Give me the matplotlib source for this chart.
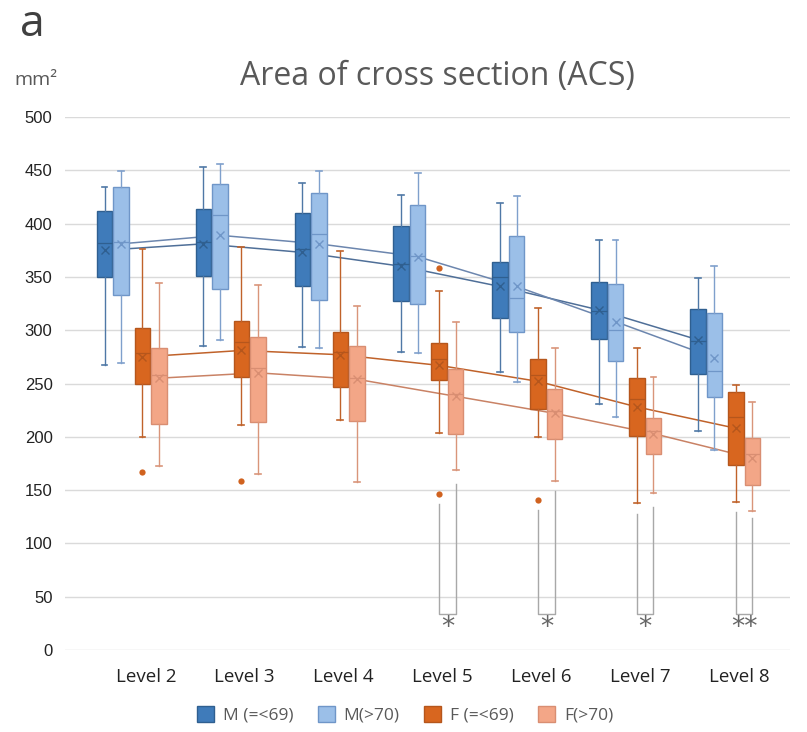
import matplotlib
matplotlib.use('Agg')
import matplotlib.pyplot as plt
from matplotlib.patches import Patch

levels = ['Level 2', 'Level 3', 'Level 4', 'Level 5', 'Level 6', 'Level 7', 'Level 8']
series_names = ['M (=<69)', 'M(>70)', 'F (=<69)', 'F(>70)']

# M (=<69)
my_lo   = [267, 285, 284, 280, 261, 231, 205]
my_q1   = [350, 351, 341, 327, 311, 292, 259]
my_med  = [382, 383, 376, 362, 350, 318, 290]
my_q3   = [412, 414, 410, 398, 364, 345, 320]
my_hi   = [434, 453, 438, 427, 419, 385, 349]
my_mean = [375, 381, 373, 360, 341, 319, 291]
my_fl   = [[], [], [], [], [], [], []]

# M(>70)
mo_lo   = [269, 291, 283, 279, 251, 219, 188]
mo_q1   = [333, 339, 328, 325, 298, 271, 237]
mo_med  = [383, 408, 390, 370, 330, 300, 262]
mo_q3   = [434, 437, 429, 417, 388, 343, 316]
mo_hi   = [449, 456, 449, 447, 426, 385, 360]
mo_mean = [381, 389, 381, 369, 341, 308, 274]
mo_fl   = [[], [], [], [], [], [], []]

# F (=<69)
fy_lo   = [200, 211, 216, 204, 200, 138, 139]
fy_q1   = [250, 256, 247, 253, 226, 201, 174]
fy_med  = [279, 289, 280, 273, 258, 235, 219]
fy_q3   = [302, 309, 298, 288, 273, 255, 242]
fy_hi   = [376, 378, 374, 337, 321, 283, 249]
fy_mean = [275, 281, 277, 267, 252, 228, 208]
fy_fl   = [[167], [159], [], [358, 146], [141], [], []]

# F(>70)
fo_lo   = [173, 165, 158, 169, 159, 147, 130]
fo_q1   = [212, 214, 215, 203, 198, 184, 155]
fo_med  = [258, 265, 255, 240, 224, 205, 184]
fo_q3   = [283, 294, 285, 264, 245, 218, 199]
fo_hi   = [344, 342, 323, 308, 283, 256, 233]
fo_mean = [255, 260, 254, 238, 222, 203, 180]
fo_fl   = [[], [], [], [], [], [], []]

# significance brackets between F (=<69) and F(>70)
sig_idx    = [3, 4, 5, 6]
sig_text   = ['*', '*', '*', '**']
sig_top_l  = [137, 131, 128, 129]
sig_top_r  = [156, 149, 134, 124]
sig_bottom = 34

yticks = [0, 50, 100, 150, 200, 250, 300, 350, 400, 450, 500]

fill_cols = ['#3F7BBA', '#9BBFE8', '#D8661F', '#F3A687']
edge_cols = ['#2F5F90', '#6F96C8', '#B5561C', '#D98E72']
whis_cols = ['#4F78A6', '#7FA0CC', '#C0622A', '#D9957A']
line_cols = ['#4F6F98', '#6C86AE', '#C0622A', '#C98265']
offsets = [-0.278, -0.111, 0.106, 0.273]
bw = 0.157

data = [
    (my_lo, my_q1, my_med, my_q3, my_hi, my_mean, my_fl),
    (mo_lo, mo_q1, mo_med, mo_q3, mo_hi, mo_mean, mo_fl),
    (fy_lo, fy_q1, fy_med, fy_q3, fy_hi, fy_mean, fy_fl),
    (fo_lo, fo_q1, fo_med, fo_q3, fo_hi, fo_mean, fo_fl),
]

fig = plt.figure(figsize=(8.07, 7.32), dpi=100)
ax = fig.add_axes([65/807, 1-650/732, (790-65)/807, (650-117)/732])

n = len(levels)
for s, (lo, q1, med, q3, hi, mean, fl) in enumerate(data):
    stats = []
    for i in range(n):
        stats.append(dict(whislo=lo[i], q1=q1[i], med=med[i], q3=q3[i],
                          whishi=hi[i], mean=mean[i], fliers=fl[i]))
    pos = [i + offsets[s] for i in range(n)]
    ax.plot(pos, mean, color=line_cols[s], lw=1.1, zorder=2)
    ax.bxp(stats, positions=pos, widths=bw, patch_artist=True, showmeans=True,
           capwidths=0.06, manage_ticks=False,
           boxprops=dict(facecolor=fill_cols[s], edgecolor=edge_cols[s], lw=1.0),
           whiskerprops=dict(color=whis_cols[s], lw=1.0),
           capprops=dict(color=whis_cols[s], lw=1.2),
           medianprops=dict(color=edge_cols[s], lw=0.9),
           meanprops=dict(marker='x', markeredgecolor=edge_cols[s], markersize=6, mew=1.0),
           flierprops=dict(marker='o', markerfacecolor='#D0621F', markeredgecolor='none', markersize=4.5),
           zorder=3)

for k, i in enumerate(sig_idx):
    xl = i + offsets[2]
    xr = i + offsets[3]
    ax.plot([xl, xl, xr, xr], [sig_top_l[k], sig_bottom, sig_bottom, sig_top_r[k]],
            color='#A8A8A8', lw=1.0, zorder=2)
    ax.text((xl + xr) / 2, 21, sig_text[k], ha='center', va='center',
            fontsize=19, color='#666666', family='DejaVu Sans')

ax.set_ylim(0, 500)
ax.set_xlim((65-132)/98.9, (790-132)/98.9)
ax.set_yticks(yticks)
ax.set_yticklabels([str(v) for v in yticks], family='Liberation Sans', fontsize=12, color='#222222')
ax.set_xticks([i + 0.14 for i in range(n)])
ax.set_xticklabels(levels, family='Open Sans', fontsize=13.5, color='#222222')
ax.tick_params(axis='both', length=0)
ax.tick_params(axis='y', pad=9)
ax.tick_params(axis='x', pad=13)
ax.grid(axis='y', color='#DADADA', lw=1.0, zorder=0)
ax.set_axisbelow(True)
for sp in ax.spines.values():
    sp.set_visible(False)

fig.text(437/807, 1-77/732, 'Area of cross section (ACS)', ha='center', va='center',
         fontsize=23, color='#595959', family='Open Sans')
fig.text(20/807, 1-25/732, 'a', ha='left', va='center', fontsize=32, color='#404040', family='Open Sans')
fig.text(14/807, 1-80/732, 'mm²', ha='left', va='center', fontsize=14, color='#595959', family='Open Sans')

handles = [Patch(facecolor=fill_cols[s], edgecolor=edge_cols[s], lw=1.0) for s in range(4)]
fig.legend(handles, series_names, loc='center', bbox_to_anchor=(405/807, 1-715/732), ncol=4,
           frameon=False, handlelength=1.0, handleheight=1.0, handletextpad=0.5,
           columnspacing=1.4, prop=dict(family='Open Sans', size=12.5), labelcolor='#595959')

fig.savefig('out.png', dpi=100)
